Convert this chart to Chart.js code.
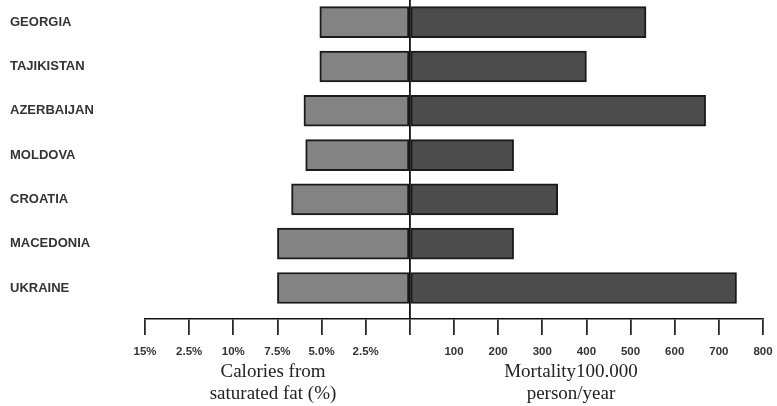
<!DOCTYPE html>
<html>
<head>
<meta charset="utf-8">
<script src="https://cdn.jsdelivr.net/npm/chart.js@4"></script>
<style>
  body { margin: 0; background: #fff; }
  #wrap { width: 777px; height: 406px; }
</style>
</head>
<body>
<div id="wrap"><canvas id="chart"></canvas></div>
<script>
// countries top to bottom
const countries = ['GEORGIA', 'TAJIKISTAN', 'AZERBAIJAN', 'MOLDOVA', 'CROATIA', 'MACEDONIA', 'UKRAINE'];
// calories from saturated fat (%)
const satFat = [5.1, 5.1, 6.0, 5.9, 6.7, 7.5, 7.5];
// mortality per 100.000 person/year
const mortality = [535, 400, 670, 235, 335, 235, 740];
// tick labels as printed in the original (left side is %, right side mortality)
const xTickLabels = ['15%', '2.5%', '10%', '7.5%', '5.0%', '2.5%', '', '100', '200', '300', '400', '500', '600', '700', '800'];
const leftTitle = ['Calories from', 'saturated fat (%)'];
const rightTitle = ['Mortality100.000', 'person/year'];

// 2.5% on the left side takes the same room as 100 on the right side
const pctScale = 40;

const titlesPlugin = {
  id: 'sideTitles',
  afterDraw(chart) {
    const ctx = chart.ctx;
    const x = chart.scales.x;
    ctx.save();
    ctx.font = '19px "Liberation Serif", serif';
    ctx.fillStyle = '#222';
    ctx.textAlign = 'center';
    ctx.textBaseline = 'alphabetic';
    const lx = x.getPixelForValue(-310);
    const rx = x.getPixelForValue(365);
    leftTitle.forEach((t, i) => ctx.fillText(t, lx, 377 + i * 22));
    rightTitle.forEach((t, i) => ctx.fillText(t, rx, 377 + i * 22));
    ctx.restore();
  }
};

const ctx = document.getElementById('chart');
new Chart(ctx, {
  type: 'bar',
  data: {
    datasets: [{
      label: 'Calories from saturated fat (%)',
      data: satFat.map((v, i) => ({ x: -v * pctScale, y: i })),
      backgroundColor: '#838383',
      borderColor: '#1a1a1a',
      borderWidth: 2,
      borderSkipped: false,
      barThickness: 31,
      grouped: false
    }, {
      label: 'Mortality100.000 person/year',
      data: mortality.map((v, i) => ({ x: v, y: i })),
      backgroundColor: '#4c4c4c',
      borderColor: '#1a1a1a',
      borderWidth: 2,
      borderSkipped: false,
      barThickness: 31,
      grouped: false
    }]
  },
  options: {
    indexAxis: 'y',
    responsive: true,
    maintainAspectRatio: false,
    animation: false,
    layout: { padding: { left: 10, right: 14, top: 0, bottom: 0 } },
    plugins: {
      legend: { display: false },
      tooltip: { enabled: false }
    },
    scales: {
      x: {
        type: 'linear',
        min: -600,
        max: 800,
        z: 1,
        afterFit(scale) {
          scale.height = 87;
          scale.paddingLeft = 0;
          scale.paddingRight = 0;
        },
        ticks: {
          stepSize: 100,
          autoSkip: false,
          maxRotation: 0,
          padding: 10,
          color: '#333',
          font: { family: '"Liberation Sans", Arial, sans-serif', size: 11.5, weight: 'bold' },
          callback: (v, i) => xTickLabels[i]
        },
        grid: {
          drawOnChartArea: true,
          color: (c) => (c.tick && c.tick.value === 0 ? '#111' : 'rgba(0,0,0,0)'),
          lineWidth: 1.8,
          tickColor: '#111',
          tickLength: 16,
          tickWidth: 1.6
        },
        border: { display: true, color: '#111', width: 1.6 }
      },
      y: {
        type: 'linear',
        min: -0.5,
        max: 6.7,
        reverse: true,
        offset: false,
        afterFit(scale) {
          scale.width = 135;
          scale.paddingTop = 0;
          scale.paddingBottom = 0;
        },
        afterBuildTicks(scale) { scale.ticks = countries.map((c, i) => ({ value: i })); },
        ticks: {
          crossAlign: 'far',
          color: '#333',
          font: { family: '"Liberation Sans", Arial, sans-serif', size: 13, weight: 'bold' },
          callback: (v) => countries[v]
        },
        grid: { display: false, offset: false },
        border: { display: false }
      }
    }
  },
  plugins: [titlesPlugin]
});
</script>
</body>
</html>
